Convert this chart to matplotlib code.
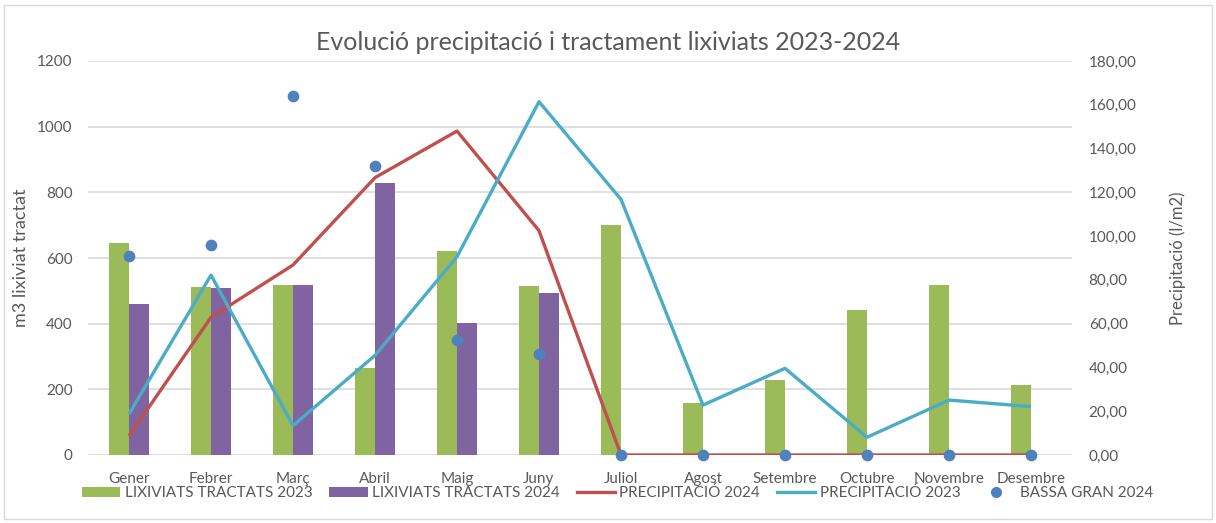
import matplotlib
matplotlib.use("Agg")
import matplotlib.pyplot as plt
import numpy as np
from matplotlib.lines import Line2D
from matplotlib.patches import Patch, Rectangle
from matplotlib.ticker import FuncFormatter

plt.rcParams["font.family"] = ["Lato", "DejaVu Sans"]

months = ["Gener", "Febrer", "Març", "Abril", "Maig", "Juny", "Juliol",
          "Agost", "Setembre", "Octubre", "Novembre", "Desembre"]
lixiviats_2023 = [646, 511, 519, 264, 620, 514, 699, 158, 229, 443, 517, 212]
lixiviats_2024 = [459, 508, 519, 827, 401, 494, np.nan, np.nan, np.nan, np.nan, np.nan, np.nan]
precip_2024 = [8.7, 62.9, 86.8, 126.7, 148.0, 102.5, 0, 0, 0, 0, 0, 0]
precip_2023 = [18.7, 82.2, 13.4, 45.5, 90.6, 161.4, 116.8, 22.8, 39.6, 8.1, 25.1, 22.1]
bassa_gran_2024 = [605, 641, 1092, 879, 350, 307, 0, 0, 0, 0, 0, 0]

GREEN = "#9BBB59"
PURPLE = "#8064A2"
RED = "#C0504D"
CYAN = "#4BACC6"
BLUE = "#4F81BD"
GRID = "#D9D9D9"
TEXT = "#595959"

fig = plt.figure(figsize=(12.16, 5.23), dpi=100)
ax = fig.add_axes([88 / 1216, 1 - 455 / 523, (1072 - 88) / 1216, (455 - 61) / 523])
ax2 = ax.twinx()

x = np.arange(len(months))
w = 0.24
ax.bar(x - w / 2, lixiviats_2023, width=w, color=GREEN, zorder=2)
ax.bar(x + w / 2, lixiviats_2024, width=w, color=PURPLE, zorder=2)

ax2.plot(x, precip_2024, color=RED, lw=2.4, solid_capstyle="butt", zorder=3)
ax2.plot(x, precip_2023, color=CYAN, lw=2.4, solid_capstyle="butt", zorder=3)
ax2.scatter(x, bassa_gran_2024, s=55, color=BLUE, zorder=4, transform=ax.transData,
            clip_on=False)

ax.set_xlim(-0.5, len(months) - 0.5)
ax.set_ylim(0, 1200)
ax2.set_ylim(0, 180)
ax.set_yticks(np.arange(0, 1201, 200))
ax2.set_yticks(np.arange(0, 181, 20))
ax2.yaxis.set_major_formatter(FuncFormatter(lambda v, p: f"{v:.2f}".replace(".", ",")))

ax.set_xticks(x)
ax.set_xticklabels(months)
ax.grid(axis="y", color=GRID, lw=1.2, zorder=0)
ax.set_axisbelow(True)
for a in (ax, ax2):
    for s in a.spines.values():
        s.set_visible(False)
    a.tick_params(length=0, colors=TEXT, labelsize=11)
ax.tick_params(axis="y", pad=11)
ax.tick_params(axis="x", pad=12)
ax2.tick_params(axis="y", pad=12)

ax.set_ylabel("m3 lixiviat tractat", color=TEXT, fontsize=13, labelpad=6)
ax2.set_ylabel("Precipitació (l/m2)", color=TEXT, fontsize=12, labelpad=24)

fig.text(0.5, 1 - 43 / 523, "Evolució precipitació i tractament lixiviats 2023-2024",
         ha="center", va="center", fontsize=18, color=TEXT)

handles = [
    Patch(facecolor=GREEN),
    Patch(facecolor=PURPLE),
    Line2D([], [], color=RED, lw=2.4),
    Line2D([], [], color=CYAN, lw=2.4),
    Line2D([], [], color=BLUE, marker="o", ls="none", markersize=7),
]
labels = ["LIXIVIATS TRACTATS 2023", "LIXIVIATS TRACTATS 2024", "PRECIPITACIÓ 2024",
          "PRECIPITACIÓ 2023", "BASSA GRAN 2024"]
leg = fig.legend(handles, labels, loc="center", bbox_to_anchor=(0.508, 1 - 493 / 523), ncol=5,
                 frameon=False, fontsize=11, handlelength=2.5, handleheight=0.6,
                 handletextpad=0.3, columnspacing=1.1, labelcolor=TEXT)

fig.patches.append(Rectangle((4 / 1216, 1 - 519 / 523), 1208 / 1216, 514 / 523,
                             transform=fig.transFigure, fill=False, edgecolor=GRID, lw=1))

fig.savefig("out.png", dpi=100)
